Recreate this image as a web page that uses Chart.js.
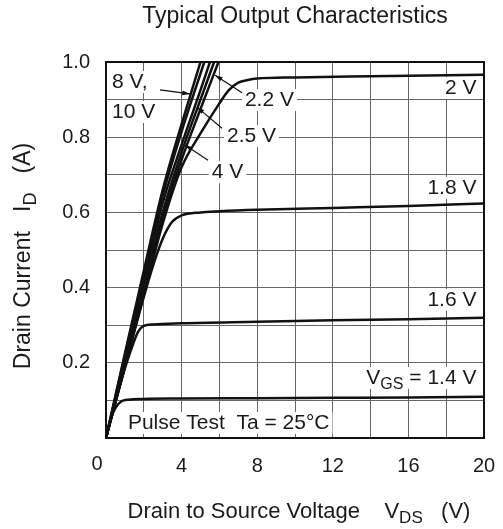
<!DOCTYPE html>
<html>
<head>
<meta charset="utf-8">
<script src="https://cdn.jsdelivr.net/npm/chart.js@4.4.1/dist/chart.umd.min.js"></script>
<style>
  html, body { margin: 0; padding: 0; background: #fff; }
  #wrap { width: 503px; height: 529px; }
</style>
</head>
<body>
<div id="wrap"><canvas id="grafico"></canvas></div>
<script>
// curvas VGS: tensao dreno-fonte (V) e corrente de dreno (A)
let vds10 = [0, 1, 2, 3, 4, 5.0];
let id10 = [0, 0.225, 0.445, 0.66, 0.835, 1.0];
let vds8 = [0, 1, 2, 3, 4, 5.2];
let id8 = [0, 0.22, 0.435, 0.645, 0.815, 1.0];
let vds4 = [0, 1, 2, 3, 4, 5, 5.5];
let id4 = [0, 0.21, 0.415, 0.625, 0.78, 0.925, 1.0];
let vds25 = [0, 1, 2, 3, 4, 5, 5.72];
let id25 = [0, 0.2, 0.4, 0.6, 0.76, 0.9, 1.0];
let vds22 = [0, 1, 2, 3, 4, 5, 5.95];
let id22 = [0, 0.195, 0.39, 0.585, 0.74, 0.875, 1.0];
let vds20 = [0, 1, 2, 3, 4, 5, 6, 6.5, 7, 7.5, 8, 10, 14, 20];
let id20 = [0, 0.19, 0.38, 0.57, 0.72, 0.81, 0.89, 0.925, 0.945, 0.952, 0.956, 0.959, 0.962, 0.966];
let vds18 = [0, 1, 2, 2.5, 3, 3.5, 4, 5, 6, 8, 12, 16, 20];
let id18 = [0, 0.19, 0.375, 0.46, 0.53, 0.575, 0.592, 0.6, 0.603, 0.607, 0.612, 0.617, 0.624];
let vds16 = [0, 0.5, 1, 1.4, 1.7, 2, 2.5, 4, 8, 12, 16, 20];
let id16 = [0, 0.095, 0.185, 0.245, 0.283, 0.298, 0.302, 0.305, 0.309, 0.313, 0.316, 0.32];
let vds14 = [0, 0.25, 0.5, 0.8, 1.2, 2, 4, 8, 12, 16, 20];
let id14 = [0, 0.05, 0.08, 0.097, 0.102, 0.104, 0.105, 0.106, 0.107, 0.108, 0.11];

let xTicks = [4, 8, 12, 16, 20];
let yTicks = ['0.2', '0.4', '0.6', '0.8', '1.0'];

let fonte = "'Liberation Sans', Arial, sans-serif";
let corTexto = '#1a1a1a';

function pontos(xs, ys) {
  return xs.map((x, i) => ({ x: x, y: ys[i] }));
}

function curva(nome, xs, ys) {
  return {
    label: nome,
    data: pontos(xs, ys),
    showLine: true,
    borderColor: '#111',
    borderWidth: 2.5,
    pointRadius: 0,
    fill: false,
    cubicInterpolationMode: 'monotone'
  };
}

// texto com subscrito: partes = [[texto, sub], ...]
function larguraRica(ctx, partes, tam) {
  let w = 0;
  partes.forEach(p => {
    ctx.font = (p[1] ? Math.round(tam * 0.78) : tam) + 'px ' + fonte;
    w += ctx.measureText(p[0]).width;
  });
  return w;
}

function textoRico(ctx, partes, x, y, tam, alinha) {
  let w = larguraRica(ctx, partes, tam);
  let cx = x;
  if (alinha === 'right') cx = x - w;
  if (alinha === 'center') cx = x - w / 2;
  ctx.textBaseline = 'middle';
  ctx.textAlign = 'left';
  ctx.fillStyle = corTexto;
  partes.forEach(p => {
    ctx.font = (p[1] ? Math.round(tam * 0.78) : tam) + 'px ' + fonte;
    ctx.fillText(p[0], cx, p[1] ? y + tam * 0.3 : y);
    cx += ctx.measureText(p[0]).width;
  });
}

let rotulos = [
  { partes: [['2 V']], x: 19.6, y: 0.931, al: 'right' },
  { partes: [['1.8 V']], x: 19.6, y: 0.665, al: 'right' },
  { partes: [['1.6 V']], x: 19.6, y: 0.367, al: 'right' },
  { partes: [['V'], ['GS', true], [' = 1.4 V']], x: 19.6, y: 0.16, al: 'right' },
  { partes: [['Pulse Test  Ta = 25°C']], x: 1.16, y: 0.04, al: 'left' },
  { partes: [['8 V,']], x: 0.32, y: 0.947, al: 'left' },
  { partes: [['10 V']], x: 0.32, y: 0.867, al: 'left' },
  { partes: [['2.2 V']], x: 7.35, y: 0.899, al: 'left' },
  { partes: [['2.5 V']], x: 6.4, y: 0.803, al: 'left' },
  { partes: [['4 V']], x: 5.6, y: 0.707, al: 'left' }
];

let setas = [
  [2.86, 0.926, 4.44, 0.915],
  [7.2, 0.918, 5.77, 0.965],
  [6.14, 0.824, 4.81, 0.88],
  [5.4, 0.739, 4.18, 0.779]
];

let TAM = 21;

let anotacoes = {
  id: 'anotacoes',
  beforeDatasetsDraw(chart) {
    let ctx = chart.ctx;
    let sx = chart.scales.x, sy = chart.scales.y;
    ctx.save();
    rotulos.forEach(r => {
      let w = larguraRica(ctx, r.partes, TAM);
      let px = sx.getPixelForValue(r.x), py = sy.getPixelForValue(r.y);
      let x0 = r.al === 'right' ? px - w : px;
      ctx.fillStyle = '#fff';
      ctx.fillRect(x0 - 3, py - 11, w + 6, 22);
    });
    ctx.restore();
  },
  afterDatasetsDraw(chart) {
    let ctx = chart.ctx;
    let sx = chart.scales.x, sy = chart.scales.y;
    ctx.save();
    rotulos.forEach(r => {
      textoRico(ctx, r.partes, sx.getPixelForValue(r.x), sy.getPixelForValue(r.y), TAM, r.al);
    });
    ctx.strokeStyle = '#111';
    ctx.fillStyle = '#111';
    ctx.lineWidth = 1.2;
    setas.forEach(s => {
      let x1 = sx.getPixelForValue(s[0]), y1 = sy.getPixelForValue(s[1]);
      let x2 = sx.getPixelForValue(s[2]), y2 = sy.getPixelForValue(s[3]);
      ctx.beginPath();
      ctx.moveTo(x1, y1);
      ctx.lineTo(x2, y2);
      ctx.stroke();
      let a = Math.atan2(y2 - y1, x2 - x1);
      ctx.beginPath();
      ctx.moveTo(x2, y2);
      ctx.lineTo(x2 - 8 * Math.cos(a - 0.3), y2 - 8 * Math.sin(a - 0.3));
      ctx.lineTo(x2 - 8 * Math.cos(a + 0.3), y2 - 8 * Math.sin(a + 0.3));
      ctx.closePath();
      ctx.fill();
    });
    ctx.restore();
  },
  afterDraw(chart) {
    let ctx = chart.ctx;
    let a = chart.chartArea;
    ctx.save();
    ctx.strokeStyle = '#111';
    ctx.lineWidth = 2;
    ctx.strokeRect(a.left, a.top, a.right - a.left, a.bottom - a.top);
    // titulo e eixos
    textoRico(ctx, [['Typical Output Characteristics']], (a.left + a.right) / 2, 17, 23, 'center');
    textoRico(ctx, [['Drain to Source Voltage    V'], ['DS', true], ['   (V)']], 299, 512, 22, 'center');
    ctx.translate(24, 256);
    ctx.rotate(-Math.PI / 2);
    textoRico(ctx, [['Drain Current   I'], ['D', true], ['   (A)']], 0, 0, 23, 'center');
    ctx.restore();
    ctx.save();
    ctx.font = '20px ' + fonte;
    ctx.fillStyle = corTexto;
    ctx.textAlign = 'center';
    ctx.textBaseline = 'middle';
    ctx.fillText('0', a.left - 9, 464);
    ctx.restore();
  }
};

let ctx = document.getElementById('grafico');

let chartgraph = new Chart(ctx, {
  type: 'scatter',
  data: {
    datasets: [
      curva('10 V', vds10, id10),
      curva('8 V', vds8, id8),
      curva('4 V', vds4, id4),
      curva('2.5 V', vds25, id25),
      curva('2.2 V', vds22, id22),
      curva('2 V', vds20, id20),
      curva('1.8 V', vds18, id18),
      curva('1.6 V', vds16, id16),
      curva('1.4 V', vds14, id14)
    ]
  },
  options: {
    responsive: true,
    maintainAspectRatio: false,
    animation: false,
    layout: { padding: { top: 62, right: 19, left: 0, bottom: 0 } },
    plugins: {
      legend: { display: false },
      tooltip: { enabled: false },
      title: { display: false }
    },
    scales: {
      x: {
        type: 'linear',
        min: 0,
        max: 20,
        afterFit(s) { s.height = 91; s.paddingLeft = 0; s.paddingRight = 0; },
        grid: { color: '#666', lineWidth: 1, drawTicks: false },
        border: { display: false },
        ticks: {
          stepSize: 2,
          autoSkip: false,
          maxRotation: 0,
          padding: 16,
          color: corTexto,
          font: { family: fonte, size: 20 },
          callback: v => xTicks.includes(v) ? String(v) : ''
        }
      },
      y: {
        type: 'linear',
        min: 0,
        max: 1,
        afterFit(s) { s.width = 106; s.paddingTop = 0; s.paddingBottom = 0; },
        grid: { color: '#666', lineWidth: 1, drawTicks: false },
        border: { display: false },
        ticks: {
          stepSize: 0.1,
          autoSkip: false,
          padding: 16,
          color: corTexto,
          font: { family: fonte, size: 20 },
          callback: v => {
            let t = (Math.round(v * 10) / 10).toFixed(1);
            return yTicks.includes(t) ? t : '';
          }
        }
      }
    }
  },
  plugins: [anotacoes]
});
</script>
</body>
</html>
